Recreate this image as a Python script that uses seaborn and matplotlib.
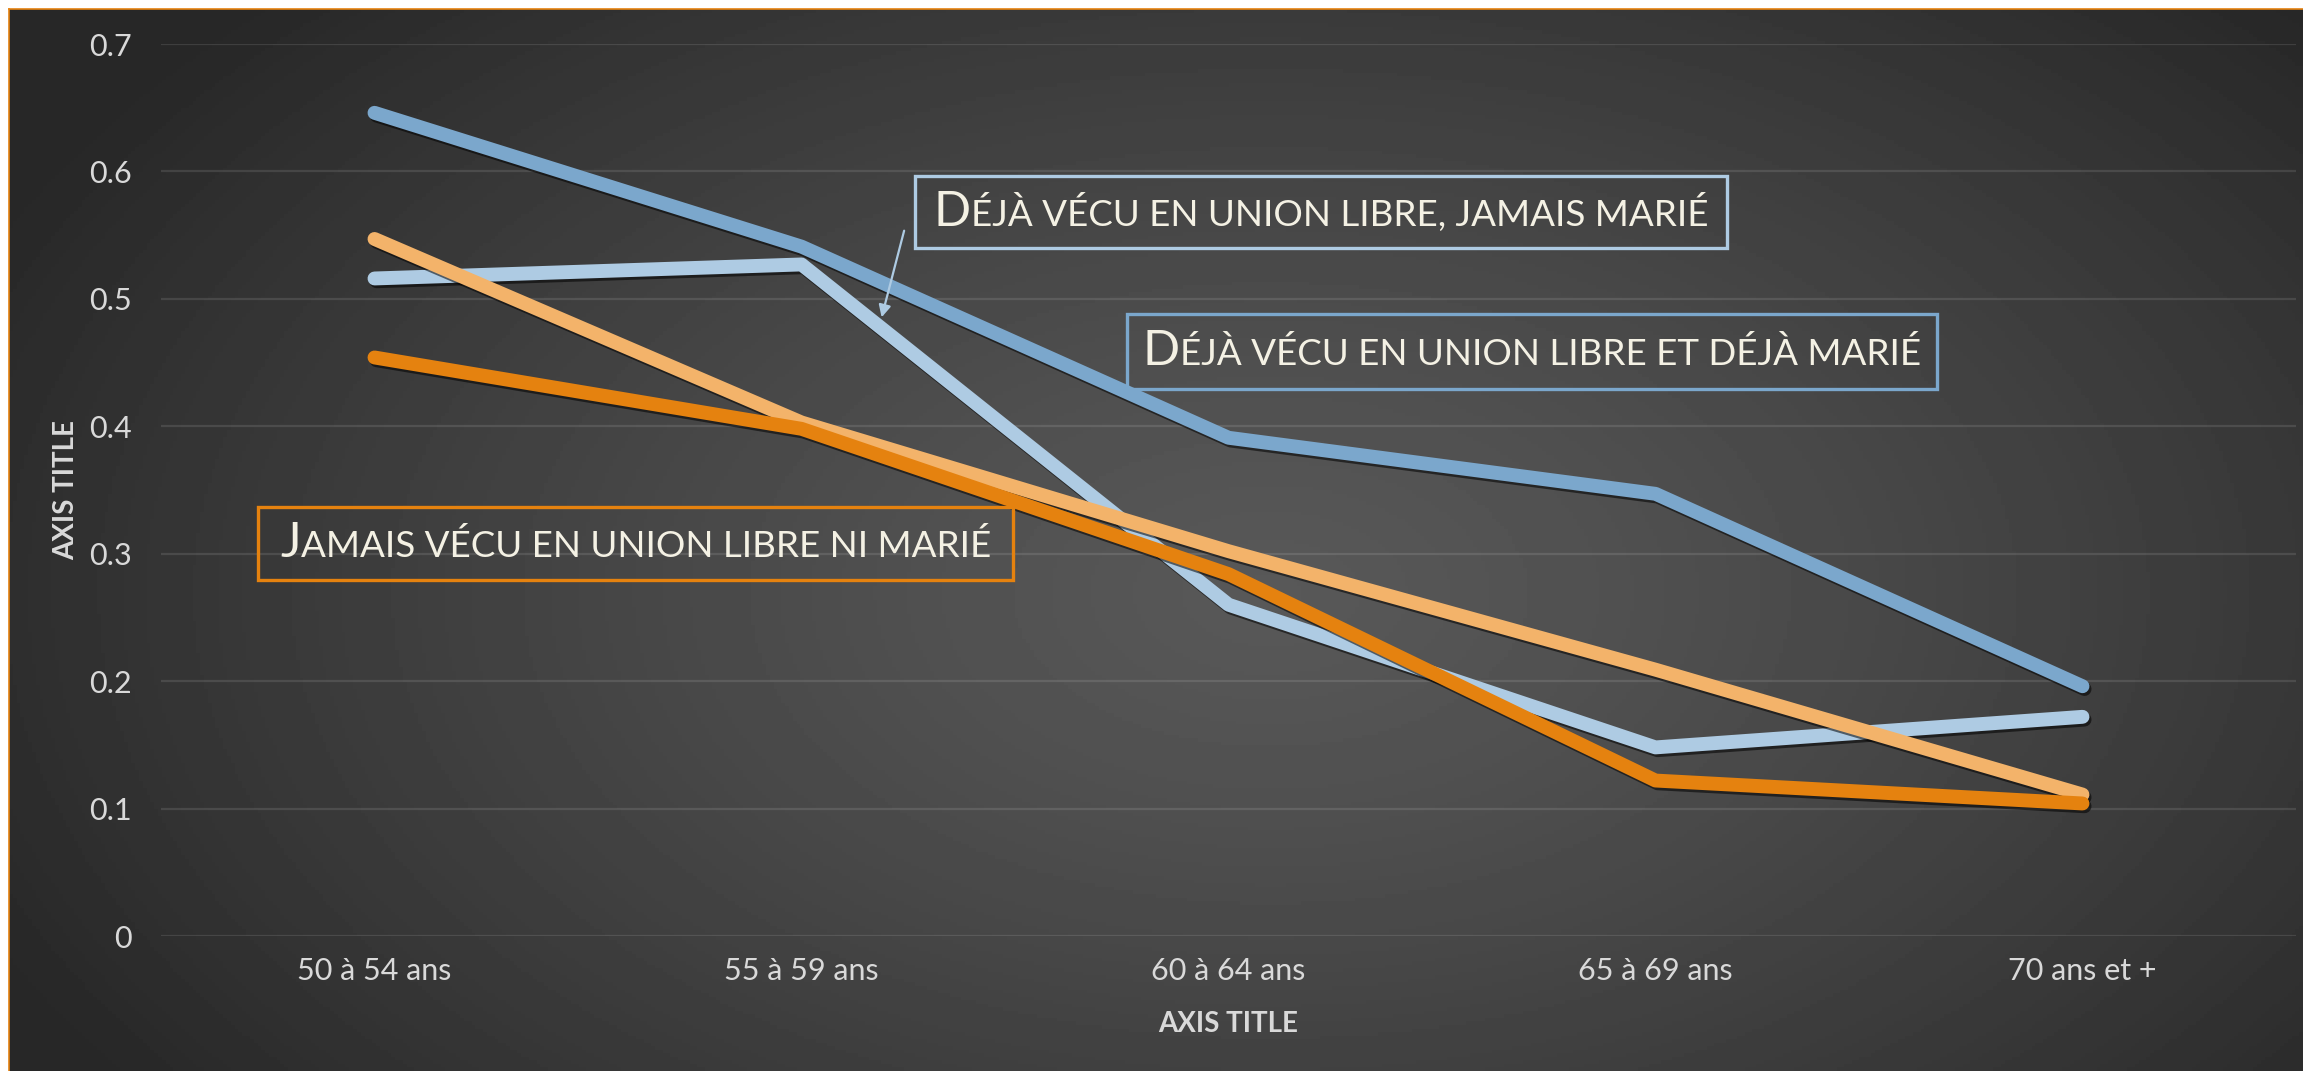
import numpy as np
import pandas as pd
import matplotlib.pyplot as plt
import seaborn as sns
from matplotlib import patheffects
from matplotlib.patches import Rectangle
from matplotlib.offsetbox import TextArea, HPacker, AnnotationBbox

# values
categories = ["50 à 54 ans", "55 à 59 ans", "60 à 64 ans", "65 à 69 ans", "70 ans et +"]
deja_union_deja_marie = [0.646, 0.541, 0.391, 0.347, 0.196]
deja_union_jamais_marie = [0.516, 0.527, 0.260, 0.148, 0.172]
deja_marie_jamais_union = [0.547, 0.403, 0.302, 0.209, 0.111]
jamais_union_ni_marie = [0.454, 0.398, 0.284, 0.122, 0.104]

series_names = [
    "Déjà vécu en union libre et déjà marié",
    "Déjà vécu en union libre, jamais marié",
    "Déjà marié, jamais vécu en union libre",
    "Jamais vécu en union libre ni marié",
]
series_values = [deja_union_deja_marie, deja_union_jamais_marie,
                 deja_marie_jamais_union, jamais_union_ni_marie]
colors = ["#7BA7CC", "#AECBE3", "#F3B36A", "#E5820F"]
y_ticks = [0, 0.1, 0.2, 0.3, 0.4, 0.5, 0.6, 0.7]

df = pd.DataFrame({
    "age": categories * len(series_names),
    "value": [v for vals in series_values for v in vals],
    "serie": [n for n in series_names for _ in categories],
})

sns.set_theme(style="white")
plt.rcParams["font.family"] = ["Lato", "DejaVu Sans"]

W, H = 2303, 1071
fig = plt.figure(figsize=(W / 100, H / 100), dpi=100, facecolor="white")

# dark radial gradient background (chart area starts a few px in from top/left)
bg = fig.add_axes([9 / W, 0, 1 - 9 / W, 1 - 9 / H])
gx, gy = np.meshgrid(np.linspace(0, 1, 600), np.linspace(0, 1, 300))
d = np.sqrt(((gx - 0.55) / 0.62) ** 2 + ((gy - 0.55) / 0.8) ** 2)
d = np.clip(d, 0, 1) ** 1.3
shade = (0x58 - (0x58 - 0x27) * d) / 255.0
bg.imshow(shade, cmap="gray", vmin=0, vmax=1, aspect="auto", origin="upper",
          extent=[0, 1, 0, 1])
bg.set_xticks([])
bg.set_yticks([])
for side in ["right", "bottom"]:
    bg.spines[side].set_visible(False)
for side in ["left", "top"]:
    bg.spines[side].set_color("#E5820F")
    bg.spines[side].set_linewidth(1.2)

ax = fig.add_axes([161 / W, 1 - 936 / H, 2135 / W, 892 / H])
ax.set_facecolor("none")

sns.lineplot(data=df, x="age", y="value", hue="serie", hue_order=series_names,
             palette=dict(zip(series_names, colors)), sort=False, linewidth=10,
             solid_capstyle="round", solid_joinstyle="round", legend=False, ax=ax)

for line in ax.lines:
    line.set_path_effects([
        patheffects.SimpleLineShadow(offset=(1.5, -2), shadow_color="black", alpha=0.55),
        patheffects.Normal(),
    ])

ax.set_xlim(-0.5, 4.5)
ax.set_ylim(0, 0.7)
ax.set_yticks(y_ticks)
ax.set_yticklabels(["0" if t == 0 else f"{t:.1f}" for t in y_ticks])
ax.grid(axis="y", color="white", alpha=0.11, linewidth=1.6)
ax.set_axisbelow(True)
for s in ax.spines.values():
    s.set_visible(False)
ax.tick_params(axis="both", length=0, colors="#D9D9D9", labelsize=22)
ax.tick_params(axis="y", pad=21)
ax.tick_params(axis="x", pad=15)

ax.set_xlabel("AXIS TITLE", fontsize=20, fontweight="bold", color="#D9D9D9", va="center")
ax.set_ylabel("AXIS TITLE", fontsize=20, fontweight="bold", color="#D9D9D9",
              va="center", ha="center")
ax.xaxis.set_label_coords(0.5, -(1024 - 936) / 892)
ax.yaxis.set_label_coords(-(161 - 66) / 2135, 0.5)


def small_caps(text, big=35, small=26.5):
    parts = [TextArea(text[0], textprops=dict(size=big, color="#F4F1E4")),
             TextArea(text[1:].upper(), textprops=dict(size=small, color="#F4F1E4"))]
    return HPacker(children=parts, align="baseline", pad=0, sep=0)


# labelled boxes: (series index, x0, x1, y0, y1) in data units
boxes = [
    (1, 1.266, 3.167, 0.540, 0.5964),
    (0, 1.762, 3.659, 0.4293, 0.4881),
    (3, -0.273, 1.495, 0.2794, 0.3367),
]
for idx, x0, x1, y0, y1 in boxes:
    ax.add_patch(Rectangle((x0, y0), x1 - x0, y1 - y0, facecolor="none",
                           edgecolor=colors[idx], linewidth=2.4, zorder=5))
    ab = AnnotationBbox(small_caps(series_names[idx]), ((x0 + x1) / 2, (y0 + y1) / 2),
                        xycoords="data", frameon=False, box_alignment=(0.5, 0.5),
                        zorder=6)
    ax.add_artist(ab)

ax.annotate("", xy=(1.186, 0.4834), xytext=(1.242, 0.5556),
            arrowprops=dict(arrowstyle="-|>", color=colors[1], lw=1.6,
                            mutation_scale=18), zorder=6)

fig.savefig("out.png", dpi=100, facecolor=fig.get_facecolor())
